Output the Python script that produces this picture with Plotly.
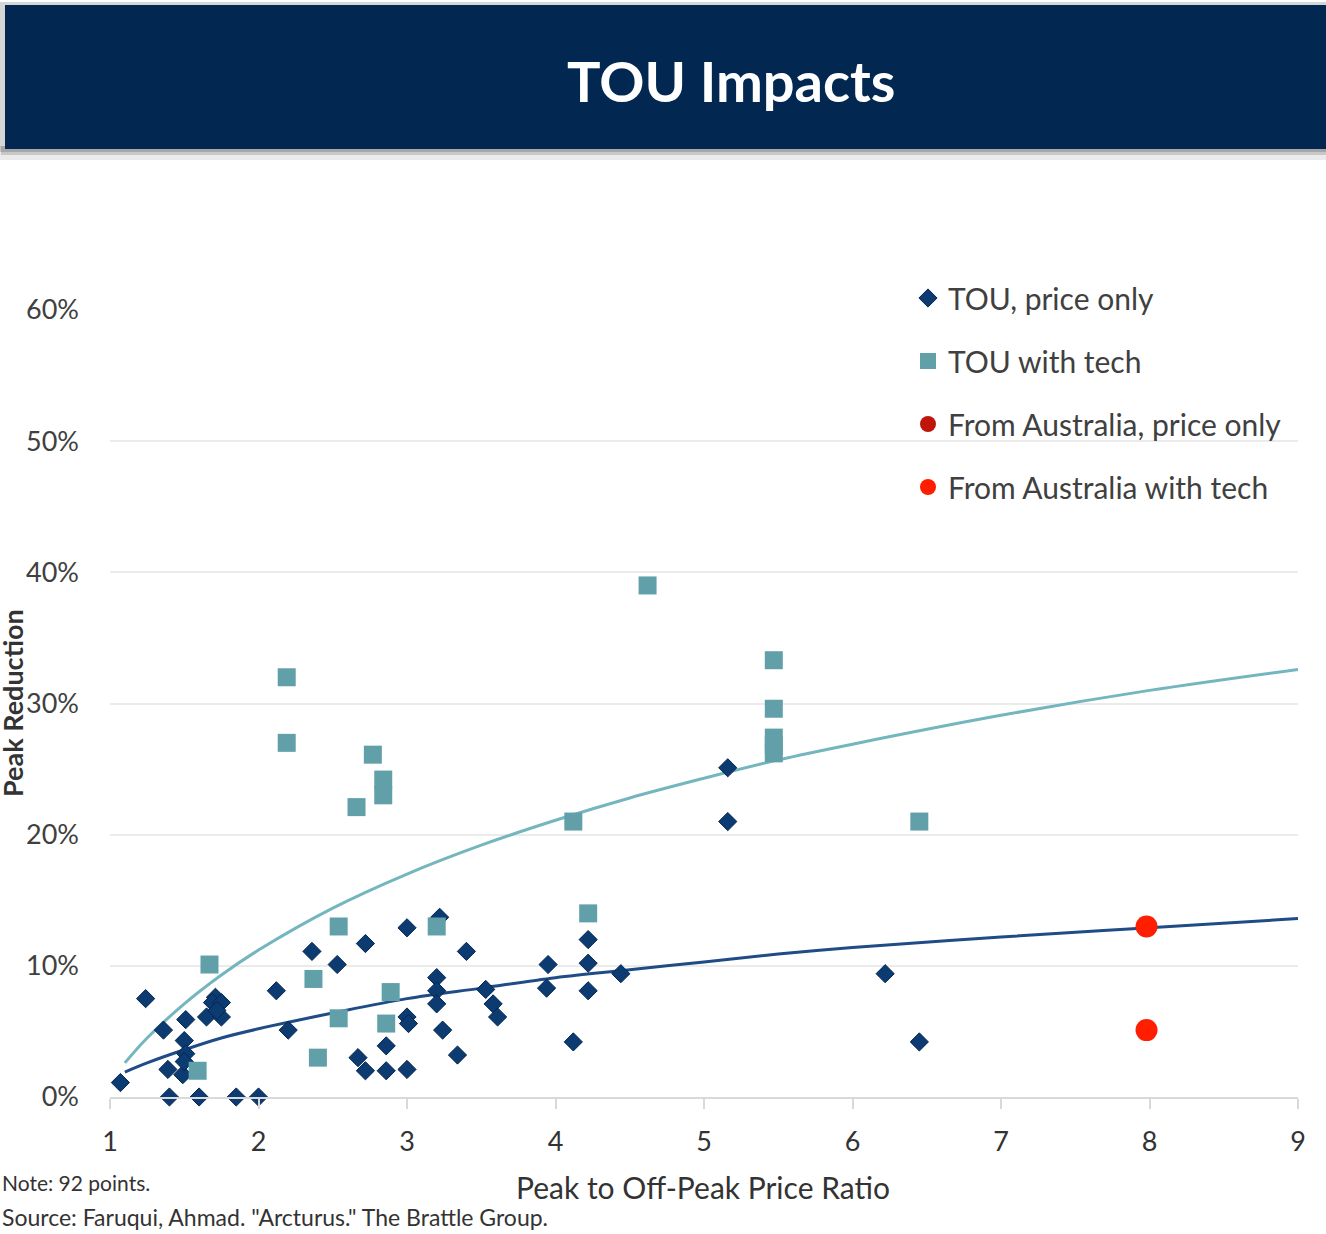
import plotly.graph_objects as go

# ---------------- data ----------------
price_only_x = [1.07, 1.24, 1.36, 1.51, 1.50, 1.51, 1.39, 1.49, 1.50, 1.40, 1.60, 1.85, 2.00,
                1.65, 1.71, 1.69, 1.75, 1.75, 1.72, 2.12, 2.20, 2.36, 2.53,
                3.22, 3.00, 2.72, 3.40, 4.22, 4.22, 4.22, 3.95, 3.94, 4.44, 4.12,
                3.20, 3.20, 3.20, 3.53, 3.58, 3.61, 3.00, 3.01, 3.24, 2.86, 2.67,
                2.72, 2.86, 3.00, 3.34, 5.16, 5.16, 6.22, 6.45]
price_only_y = [1.1, 7.5, 5.1, 5.9, 4.3, 3.3, 2.1, 1.7, 2.7, 0.0, 0.0, 0.0, 0.0,
                6.1, 7.6, 7.2, 7.2, 6.1, 6.6, 8.1, 5.1, 11.1, 10.1,
                13.7, 12.9, 11.7, 11.1, 12.0, 10.2, 8.1, 10.1, 8.3, 9.4, 4.2,
                9.1, 8.1, 7.1, 8.2, 7.1, 6.1, 6.1, 5.6, 5.1, 3.9, 3.0,
                2.0, 2.0, 2.1, 3.2, 25.1, 21.0, 9.4, 4.2]

with_tech_x = [1.67, 1.59, 2.54, 2.37, 2.54, 2.40, 3.20, 2.89, 2.86, 4.22,
               2.19, 2.19, 2.77, 2.66, 2.84, 2.84, 4.62, 5.47, 5.47, 5.47,
               5.47, 5.47, 4.12, 6.45]
with_tech_y = [10.1, 2.0, 13.0, 9.0, 6.0, 3.0, 13.0, 8.0, 5.6, 14.0,
               32.0, 27.0, 26.1, 22.1, 24.2, 23.0, 39.0, 33.3, 29.6, 27.4,
               26.8, 26.2, 21.0, 21.0]

aus_price_x = [None]
aus_price_y = [None]
aus_tech_x = [7.98, 7.98]
aus_tech_y = [13.0, 5.1]

# trend lines, read at several points along each curve
trend_x = [1.1, 1.25, 1.5, 1.75, 2, 2.5, 3, 3.5, 4, 4.5, 5, 5.5, 6, 7, 8, 9]
trend_tech_y = [2.6, 4.5, 7.1, 9.3, 11.2, 14.4, 17.0, 19.2, 21.1, 22.8, 24.3, 25.7, 26.9, 29.1, 31.0, 32.6]
trend_price_y = [1.9, 2.6, 3.6, 4.5, 5.2, 6.4, 7.5, 8.3, 9.1, 9.7, 10.3, 10.9, 11.4, 12.2, 12.9, 13.6]

x_ticks = [1, 2, 3, 4, 5, 6, 7, 8, 9]
y_ticks = [0, 10, 20, 30, 40, 50, 60]
y_tick_text = ["0%", "10%", "20%", "30%", "40%", "50%", "60%"]

# ---------------- layout helpers ----------------
W, H = 1326, 1234
L, R, T, B = 110, 1298, 310, 1097   # plot area in pixels


def px_x(p):
    return (p - L) / (R - L)


def px_y(p):
    return (B - p) / (B - T)


FONT = "Lato"
NAVY = "#0c3b72"
TEAL = "#62a0a9"

fig = go.Figure()

fig.add_trace(go.Scatter(x=trend_x, y=trend_tech_y, mode="lines", line=dict(color="#74b6be", width=3, shape="spline"),
                         showlegend=False, hoverinfo="skip"))
fig.add_trace(go.Scatter(x=trend_x, y=trend_price_y, mode="lines", line=dict(color="#1f4b86", width=3, shape="spline"),
                         showlegend=False, hoverinfo="skip"))

fig.add_trace(go.Scatter(x=price_only_x, y=price_only_y, mode="markers", name="TOU, price only",
                         legendgroup="a", cliponaxis=False,
                         marker=dict(symbol="diamond", size=14, color=NAVY, line=dict(width=1, color="#052650"))))
fig.add_trace(go.Scatter(x=with_tech_x, y=with_tech_y, mode="markers", name="TOU with tech",
                         legendgroup="b", cliponaxis=False,
                         marker=dict(symbol="square", size=18, color=TEAL)))
fig.add_trace(go.Scatter(x=aus_price_x, y=aus_price_y, mode="markers", name="From Australia, price only",
                         legendgroup="c", cliponaxis=False,
                         marker=dict(symbol="circle", size=22, color="#c0150b")))
fig.add_trace(go.Scatter(x=aus_tech_x, y=aus_tech_y, mode="markers", name="From Australia with tech",
                         legendgroup="d", cliponaxis=False,
                         marker=dict(symbol="circle", size=22, color="#ff1e00")))

shapes = [
    # banner shadow
    dict(type="rect", xref="paper", yref="paper", x0=px_x(0), x1=px_x(1330), y0=px_y(160), y1=px_y(146),
         fillcolor="rgba(0,0,0,0.08)", line=dict(width=0), layer="below"),
    dict(type="rect", xref="paper", yref="paper", x0=px_x(1), x1=px_x(1330), y0=px_y(155), y1=px_y(146),
         fillcolor="rgba(0,0,0,0.15)", line=dict(width=0), layer="below"),
    dict(type="rect", xref="paper", yref="paper", x0=px_x(0), x1=px_x(1330), y0=px_y(152), y1=px_y(2),
         fillcolor="rgba(0,0,0,0.16)", line=dict(width=0), layer="below"),
    # banner
    dict(type="rect", xref="paper", yref="paper", x0=px_x(5), x1=px_x(1330), y0=px_y(149), y1=px_y(5),
         fillcolor="#022852", line=dict(width=0), layer="below"),
]

annotations = [
    dict(text="<b>TOU Impacts</b>", xref="paper", yref="paper", x=px_x(731), y=px_y(80),
         xanchor="center", yanchor="middle", showarrow=False,
         font=dict(family=FONT, size=56, color="white")),
    dict(text="Peak to Off-Peak Price Ratio", xref="paper", yref="paper", x=px_x(703), y=px_y(1187),
         xanchor="center", yanchor="middle", showarrow=False,
         font=dict(family=FONT, size=30, color="#333333")),
    dict(text="<b>Peak Reduction</b>", xref="paper", yref="paper", x=px_x(12), y=px_y(703),
         xanchor="center", yanchor="middle", textangle=-90, showarrow=False, borderpad=0,
         font=dict(family=FONT, size=27, color="#333333")),
    dict(text="Note: 92 points.", xref="paper", yref="paper", x=px_x(0), y=px_y(1182),
         xanchor="left", yanchor="middle", showarrow=False,
         font=dict(family=FONT, size=21, color="#333333")),
    dict(text="Source: Faruqui, Ahmad. \"Arcturus.\" The Brattle Group.", xref="paper", yref="paper",
         x=px_x(0), y=px_y(1217), xanchor="left", yanchor="middle", showarrow=False,
         font=dict(family=FONT, size=23, color="#333333")),
]

fig.update_layout(
    width=W, height=H,
    margin=dict(l=L, r=W - R, t=T, b=H - B, pad=0),
    paper_bgcolor="white", plot_bgcolor="white",
    font=dict(family=FONT, color="#404040"),
    shapes=shapes, annotations=annotations,
    showlegend=True,
    legend=dict(x=px_x(908), y=px_y(272), xanchor="left", yanchor="top",
                font=dict(family=FONT, size=30, color="#404040"),
                traceorder="grouped", tracegroupgap=21, bgcolor="rgba(0,0,0,0)",
                itemsizing="trace"),
    xaxis=dict(range=[1, 9], tickvals=x_ticks, showgrid=False, zeroline=False,
               showline=True, linecolor="#d9d9d9", linewidth=1.5,
               ticks="outside", ticklen=10, tickcolor="#d9d9d9", tickwidth=1.5,
               tickfont=dict(family=FONT, size=27, color="#333333"), ticklabelstandoff=10),
    yaxis=dict(range=[0, 60], tickvals=y_ticks, ticktext=y_tick_text, showgrid=True,
               gridcolor="#ebebeb", gridwidth=1.5, zeroline=False, showline=False,
               tickfont=dict(family=FONT, size=27, color="#404040"), ticklabelstandoff=30),
)

fig.write_html("out.html", config={"displayModeBar": False},
               post_script="document.body.style.margin='0';document.body.style.overflow='hidden';")
